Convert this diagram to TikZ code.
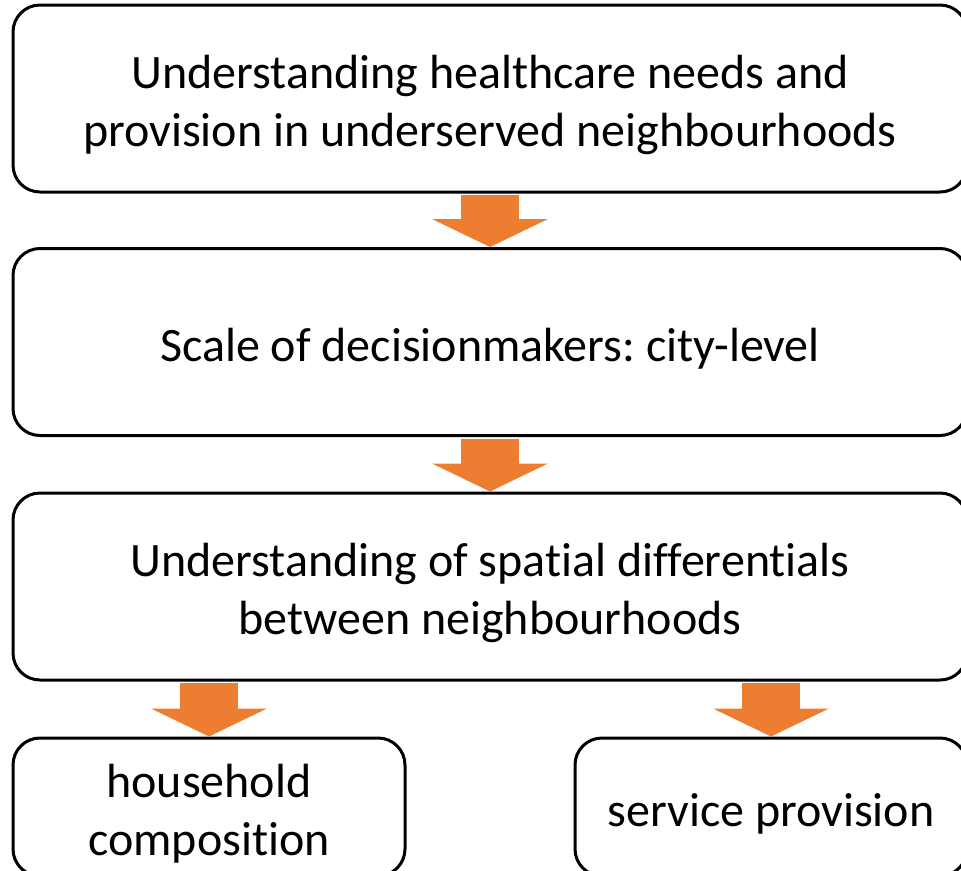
\documentclass[tikz,border=0pt]{standalone}
\usepackage{fontspec}
\setmainfont{Carlito}[Ligatures=NoCommon]
\frenchspacing
\usetikzlibrary{arrows.meta}
\definecolor{arroworange}{HTML}{ED7D31}
% strut that gives every first line the same ascent
\newcommand{\topline}{\rule{0pt}{46pt}}
\tikzstyle{bigbox} = [rectangle, rounded corners=27, minimum width=954, minimum height=187, align=center, draw=black, line width=3, font=\fontsize{48}{58}\selectfont]
\tikzstyle{smallbox} = [bigbox, minimum width=392, minimum height=138]
\tikzstyle{blockarrow} = [draw=arroworange, line width=58, shorten <=1.5pt, -{Triangle[width=116pt, length=28pt, line width=0pt]}]

\begin{document}
\begin{tikzpicture}[x=1pt, y=-1pt]
\useasboundingbox (0,0) rectangle (961,870);
\clip (0,0) rectangle (961,870);
\node (box1) [bigbox] at (490, 98.5) {\topline Understanding healthcare needs and\\provision in underserved neighbourhoods};
\node (box2) [bigbox] at (490, 342) {\topline Scale of decisionmakers: city-level};
\node (box3) [bigbox] at (490, 586.5) {\topline Understanding of spatial differentials\\between neighbourhoods};
\node (box4) [smallbox] at (209, 807) {\topline household\\composition};
\node (box5) [smallbox] at (771, 807) {\topline service provision};
\draw [blockarrow] (box1) -- (box2);
\draw [blockarrow] (box2) -- (box3);
\draw [blockarrow] (box3.south -| box4) -- (box4);
\draw [blockarrow] (box3.south -| box5) -- (box5);
\end{tikzpicture}
\end{document}
